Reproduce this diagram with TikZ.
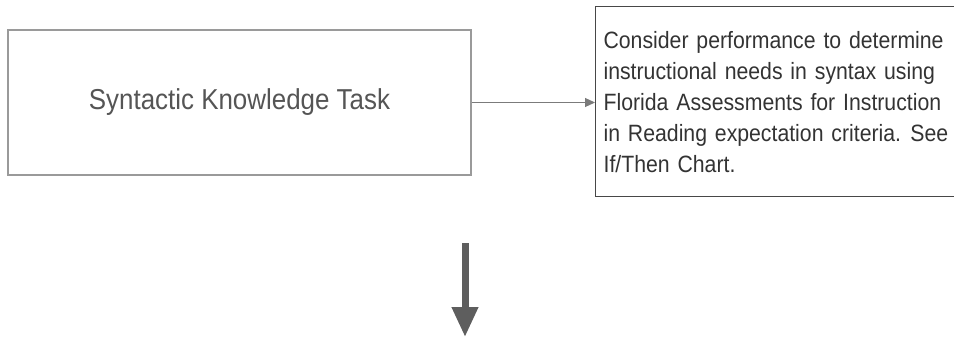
\documentclass[tikz,border=0pt]{standalone}
\usepackage{fontspec}
\newfontfamily\chartfont{Liberation Sans}[FakeStretch=0.9]
\usetikzlibrary{arrows.meta}

\definecolor{boxgray}{HTML}{9A9A9A}
\definecolor{textgray}{HTML}{555555}
\definecolor{darkline}{HTML}{474747}
\definecolor{darktext}{HTML}{333333}
\definecolor{bigarrow}{HTML}{5E5E5E}

\begin{document}
\begin{tikzpicture}[x=0.5pt, y=-0.5pt,
        taskbox/.style={draw=boxgray, line width=0.6pt, minimum width=231.5pt,
            minimum height=72.5pt, font=\chartfont\fontsize{14.4}{17}\selectfont,
            text=textgray},
        notebox/.style={draw=darkline, line width=0.6pt, anchor=north west,
            text width=190pt, inner xsep=4pt, minimum height=95pt, align=left,
            font=\chartfont\fontsize{11.8}{15.5}\selectfont, text=darktext}]
        \useasboundingbox (0,0) rectangle (954,338);
        \clip (0,0) rectangle (954,338);

        % task box and its note
        \node[taskbox] (skt) at (239.5,102.5) {Syntactic Knowledge Task};
        \node[notebox] (cons) at (595,6) {Consider performance to determine\\
            instructional needs in syntax using\\
            Florida Assessments for Instruction\\
            in Reading expectation criteria.\hspace{0.4em}See\\
            If/Then Chart.};

        \draw[boxgray!80!black, line width=0.6pt, -{Triangle[length=5pt, width=4.5pt]}]
            (skt.east) -- (skt.east -| cons.west);

        % arrow to the next step
        \coordinate (dtop) at (465,243);
        \coordinate (dbot) at (465,337);
        \draw[bigarrow, line width=3.5pt, -{Triangle[length=15pt, width=12.5pt]}]
            (dtop) -- (dbot);
    \end{tikzpicture}
\end{document}
